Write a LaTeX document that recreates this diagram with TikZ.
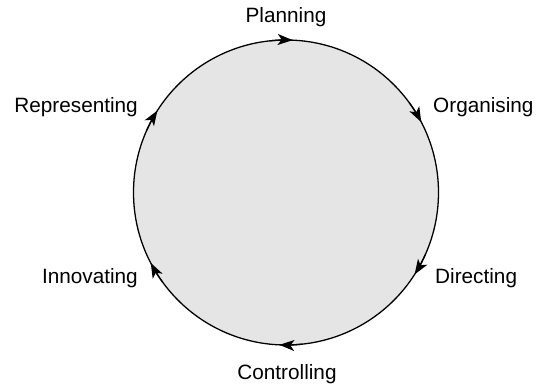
\documentclass[tikz,border=0pt]{standalone}
\usepackage{fontspec}
\setmainfont{Liberation Sans}
\usetikzlibrary{arrows.meta}

\begin{document}
\begin{tikzpicture}[x=.03cm, y=.03cm,
    stage/.style={inner sep=0pt, font=\fontsize{17.7}{20}\selectfont},
    flow/.style={line width=1.1pt, -{Stealth[length=.45cm, width=.33cm, inset=.12cm]}}]
        \useasboundingbox (0, 0) rectangle (547, 386);
        \coordinate (O) at (286, 193.5);
        \draw[line width=1.1pt, fill=gray!20] (O) circle (152.5);
        \foreach \a in {30, 90, ..., 330}
            \draw[flow] (O) ++(\a+6:152.5) arc (\a+6:\a-2.5:152.5);
        \node[stage, anchor=base] (plan) at (286, 363) {Planning};
        \node[stage, anchor=base west] (org) at (433, 273) {Organising};
        \node[stage, anchor=base west] (dir) at (435, 102) {Directing};
        \node[stage, anchor=base] (ctrl) at (287, 6) {Controlling};
        \node[stage, anchor=base east] (inno) at (138, 102) {Innovating};
        \node[stage, anchor=base east] (rep) at (138, 273) {Representing};
    \end{tikzpicture}
\end{document}
